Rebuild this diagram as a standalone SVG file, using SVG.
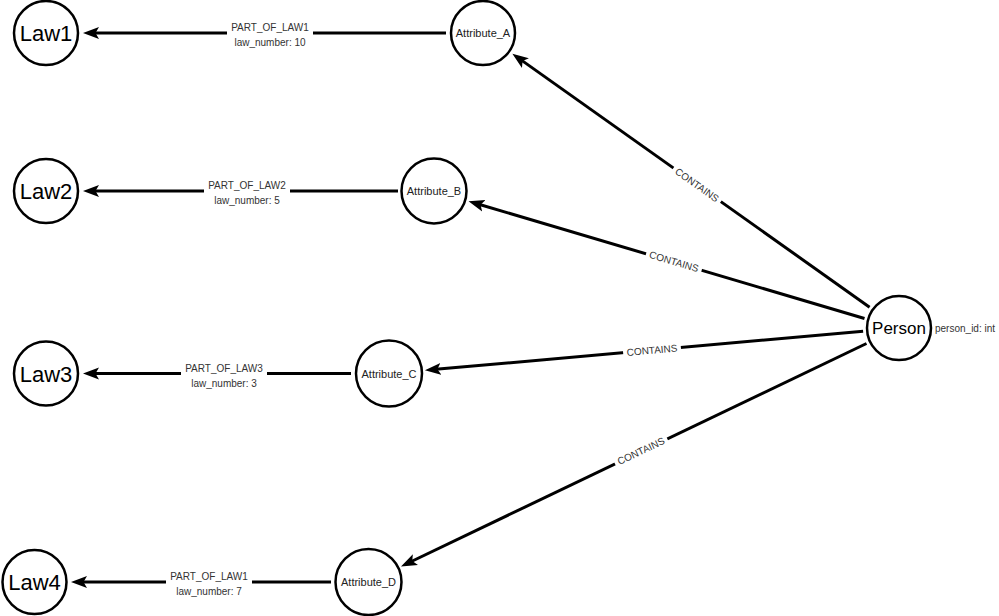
<svg xmlns="http://www.w3.org/2000/svg" width="999" height="616" viewBox="0 0 999 616">
<style>
.node{fill:#fff;stroke:#000;stroke-width:2.5}
.law{font-family:"Liberation Sans",Arial,sans-serif;font-size:22px;fill:#000;text-anchor:middle}
.attr{font-family:"Liberation Sans",Arial,sans-serif;font-size:11px;fill:#222;text-anchor:middle}
.person{font-family:"Liberation Sans",Arial,sans-serif;font-size:17px;fill:#000;text-anchor:middle}
.prop{font-family:"Liberation Sans",Arial,sans-serif;font-size:10px;fill:#333}
.edge{stroke:#000;stroke-width:3;fill:none;marker-end:url(#arrow)}
.elabel{font-family:"Liberation Sans",Arial,sans-serif;font-size:10px;fill:#333;text-anchor:middle}
.gap{fill:#fff}
</style>
<defs>
<marker id="arrow" markerUnits="userSpaceOnUse" markerWidth="17" markerHeight="13" viewBox="0 0 17 13" refX="8" refY="6.5" orient="auto">
<path d="M0,0.5 L16,6.5 L0,12.5 L3.5,6.5 z" fill="#000"/>
</marker>
</defs>
<rect width="999" height="616" fill="#fff"/>
<g id="connectors">
<line class="edge" x1="446" y1="33" x2="91" y2="33"/>
<line class="edge" x1="398" y1="191" x2="91" y2="191"/>
<line class="edge" x1="351" y1="373.5" x2="91" y2="373.5"/>
<line class="edge" x1="331" y1="582" x2="79" y2="582"/>
<line class="edge" x1="869.6" y1="307.2" x2="518.9" y2="58.4"/>
<line class="edge" x1="864.5" y1="318.5" x2="476.2" y2="203.5"/>
<line class="edge" x1="863.1" y1="331.2" x2="432.9" y2="369.6"/>
<line class="edge" x1="866.5" y1="343.5" x2="408.2" y2="563"/>
<g id="label-law1">
<rect class="gap" x="227" y="22" width="86" height="28"/>
<text class="elabel" x="270" y="31">PART_OF_LAW1</text>
<text class="elabel" x="270" y="46">law_number: 10</text>
</g>
<g id="label-law2">
<rect class="gap" x="204" y="180" width="86" height="28"/>
<text class="elabel" x="247" y="189">PART_OF_LAW2</text>
<text class="elabel" x="247" y="204">law_number: 5</text>
</g>
<g id="label-law3">
<rect class="gap" x="181" y="362.5" width="86" height="28"/>
<text class="elabel" x="224" y="371.5">PART_OF_LAW3</text>
<text class="elabel" x="224" y="386.5">law_number: 3</text>
</g>
<g id="label-law4">
<rect class="gap" x="166" y="571" width="86" height="28"/>
<text class="elabel" x="209" y="580">PART_OF_LAW1</text>
<text class="elabel" x="209" y="595">law_number: 7</text>
</g>
<g transform="translate(697,185) rotate(35.34)">
<rect class="gap" x="-29" y="-6" width="58" height="12"/>
<text class="elabel" x="0" y="3.5">CONTAINS</text>
</g>
<g transform="translate(674,261.5) rotate(16.5)">
<rect class="gap" x="-29" y="-6" width="58" height="12"/>
<text class="elabel" x="0" y="3.5">CONTAINS</text>
</g>
<g transform="translate(652,350.2) rotate(-5.1)">
<rect class="gap" x="-29" y="-6" width="58" height="12"/>
<text class="elabel" x="0" y="3.5">CONTAINS</text>
</g>
<g transform="translate(641,451) rotate(-25.5)">
<rect class="gap" x="-29" y="-6" width="58" height="12"/>
<text class="elabel" x="0" y="3.5">CONTAINS</text>
</g>
</g>
<g id="Law1"><circle class="node" cx="46" cy="33" r="32"/><text class="law" x="46" y="41">Law1</text></g>
<g id="Law2"><circle class="node" cx="46" cy="191" r="32"/><text class="law" x="46" y="199">Law2</text></g>
<g id="Law3"><circle class="node" cx="46" cy="373.5" r="32"/><text class="law" x="46" y="381.5">Law3</text></g>
<g id="Law4"><circle class="node" cx="34.5" cy="582" r="32"/><text class="law" x="34.5" y="590">Law4</text></g>
<g id="Attribute_A"><circle class="node" cx="483" cy="33" r="32"/><text class="attr" x="483" y="37">Attribute_A</text></g>
<g id="Attribute_B"><circle class="node" cx="434" cy="191" r="32.5"/><text class="attr" x="434" y="195">Attribute_B</text></g>
<g id="Attribute_C"><circle class="node" cx="389" cy="373.5" r="33"/><text class="attr" x="389" y="377.5">Attribute_C</text></g>
<g id="Attribute_D"><circle class="node" cx="368.5" cy="582" r="33"/><text class="attr" x="368.5" y="586">Attribute_D</text></g>
<g id="Person"><circle class="node" cx="899" cy="328" r="32"/><text class="person" x="899" y="334">Person</text><text class="prop" x="935" y="332">person_id: int</text></g>
</svg>
